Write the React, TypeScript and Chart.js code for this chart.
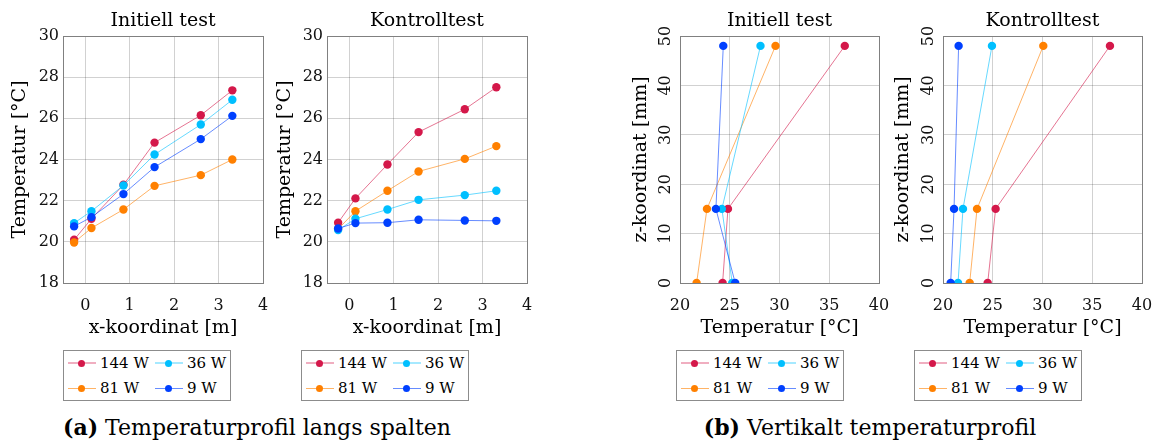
import React, { useEffect, useRef } from "react";
import { Chart, registerables } from "chart.js";

Chart.register(...registerables);

const FONT = "'DejaVu Serif', 'Liberation Serif', serif";
const TEXT = "#111111";

// Series, in legend order
const seriesLabels = ["144 W", "81 W", "36 W", "9 W"];
const pointColors = ["#d4184a", "#ff8000", "#00bfff", "#0040ff"];
const lineColors = [
  "rgba(212,24,74,0.6)",
  "rgba(255,128,0,0.6)",
  "rgba(0,191,255,0.6)",
  "rgba(0,64,255,0.6)",
];

// (a) Temperature profile along the gap
const xPositions = [-0.25, 0.14, 0.86, 1.56, 2.6, 3.31];
const initial144 = [20.1, 21.12, 22.77, 24.82, 26.15, 27.36];
const initial81 = [19.97, 20.67, 21.57, 22.72, 23.24, 24.0];
const initial36 = [20.91, 21.49, 22.74, 24.24, 25.7, 26.9];
const initial9 = [20.75, 21.2, 22.32, 23.63, 24.99, 26.12];
const control144 = [20.93, 22.11, 23.76, 25.33, 26.44, 27.51];
const control81 = [20.62, 21.49, 22.48, 23.42, 24.03, 24.65];
const control36 = [20.57, 21.12, 21.57, 22.04, 22.27, 22.48];
const control9 = [20.65, 20.91, 20.93, 21.07, 21.04, 21.02];

// (b) Vertical temperature profile
const zPositions = [0, 15, 48];
const vInitial144 = [24.28, 24.82, 36.56];
const vInitial81 = [21.67, 22.71, 29.6];
const vInitial36 = [25.25, 24.21, 28.09];
const vInitial9 = [25.55, 23.61, 24.35];
const vControl144 = [24.49, 25.29, 36.78];
const vControl81 = [22.68, 23.42, 30.08];
const vControl36 = [21.51, 22.01, 24.92];
const vControl9 = [20.77, 21.11, 21.57];

// Tick values
const xTicksA = [0, 1, 2, 3, 4];
const tempTicksA = [18, 20, 22, 24, 26, 28, 30];
const tempTicksB = [20, 25, 30, 35, 40];
const zTicks = [0, 10, 20, 30, 40, 50];

type Series = { x: number[]; y: number[] };
type Spec = {
  key: string;
  left: number;
  width: number;
  axisW: number;
  padRight: number;
  yTitlePad: number;
  title: string;
  xTitle: string;
  yTitle: string;
  xMin: number;
  xMax: number;
  xTicks: number[];
  yMin: number;
  yMax: number;
  yTicks: number[];
  rotateY: boolean;
  series: Series[];
};

const CANVAS_H = 345;
const PLOT_BOTTOM = 283;

const specs: Spec[] = [
  {
    key: "a1", left: 0, width: 272, axisW: 63, padRight: 9, yTitlePad: 9,
    title: "Initiell test", xTitle: "x-koordinat [m]", yTitle: "Temperatur [°C]",
    xMin: -0.5, xMax: 4, xTicks: xTicksA, yMin: 18, yMax: 30, yTicks: tempTicksA, rotateY: false,
    series: [initial144, initial81, initial36, initial9].map((v) => ({ x: xPositions, y: v })),
  },
  {
    key: "a2", left: 272, width: 272, axisW: 55, padRight: 17, yTitlePad: 2,
    title: "Kontrolltest", xTitle: "x-koordinat [m]", yTitle: "Temperatur [°C]",
    xMin: -0.5, xMax: 4, xTicks: xTicksA, yMin: 18, yMax: 30, yTicks: tempTicksA, rotateY: false,
    series: [control144, control81, control36, control9].map((v) => ({ x: xPositions, y: v })),
  },
  {
    key: "b1", left: 620, width: 275, axisW: 60, padRight: 16, yTitlePad: 9.6,
    title: "Initiell test", xTitle: "Temperatur [°C]", yTitle: "z-koordinat [mm]",
    xMin: 20, xMax: 40, xTicks: tempTicksB, yMin: 0, yMax: 50, yTicks: zTicks, rotateY: true,
    series: [vInitial144, vInitial81, vInitial36, vInitial9].map((v) => ({ x: v, y: zPositions })),
  },
  {
    key: "b2", left: 885, width: 273, axisW: 58, padRight: 16, yTitlePad: 6.6,
    title: "Kontrolltest", xTitle: "Temperatur [°C]", yTitle: "z-koordinat [mm]",
    xMin: 20, xMax: 40, xTicks: tempTicksB, yMin: 0, yMax: 50, yTicks: zTicks, rotateY: true,
    series: [vControl144, vControl81, vControl36, vControl9].map((v) => ({ x: v, y: zPositions })),
  },
];

const boxPlugin = {
  id: "axesBox",
  beforeDatasetsDraw(chart: any) {
    const { ctx, chartArea } = chart;
    const l = Math.round(chartArea.left) + 0.5;
    const t = Math.round(chartArea.top) + 0.5;
    const r = Math.round(chartArea.right) + 0.5;
    const b = Math.round(chartArea.bottom) + 0.5;
    ctx.save();
    ctx.strokeStyle = "#808080";
    ctx.lineWidth = 1;
    ctx.strokeRect(l, t, r - l, b - t);
    ctx.restore();
  },
};

// Draws the y tick labels of the scale rotated by 90 degrees (reading upwards)
const rotatedYTicksPlugin = {
  id: "rotatedYTicks",
  afterDraw(chart: any) {
    const scale = chart.scales.y;
    const { ctx, chartArea } = chart;
    ctx.save();
    ctx.fillStyle = TEXT;
    ctx.font = `16px ${FONT}`;
    ctx.textAlign = "center";
    ctx.textBaseline = "middle";
    for (const t of scale.ticks) {
      const y = scale.getPixelForValue(t.value);
      ctx.save();
      ctx.translate(chartArea.left - 14.5, y);
      ctx.rotate(-Math.PI / 2);
      ctx.fillText(String(t.value), 0, 0);
      ctx.restore();
    }
    ctx.restore();
  },
};

function zeroPadding(sc: any) {
  sc.paddingLeft = 0;
  sc.paddingRight = 0;
  sc.paddingTop = 0;
  sc.paddingBottom = 0;
}

function makeConfig(s: Spec): any {
  const datasets = s.series
    .map((d, i) => ({
      label: seriesLabels[i],
      data: d.x.map((xv, j) => ({ x: xv, y: d.y[j] })),
      showLine: true,
      borderColor: lineColors[i],
      borderWidth: 1,
      pointRadius: 4.2,
      pointHoverRadius: 4.2,
      pointBackgroundColor: pointColors[i],
      pointBorderWidth: 0,
      tension: 0,
    }))
    .reverse();

  const gridColor = "rgba(0,0,0,0.18)";
  const tickFont = { family: FONT, size: 16 };
  return {
    type: "scatter",
    data: { datasets },
    plugins: s.rotateY ? [boxPlugin, rotatedYTicksPlugin] : [boxPlugin],
    options: {
      responsive: false,
      animation: false,
      events: [],
      layout: { padding: { left: 0, right: s.padRight, top: 0, bottom: 0 } },
      plugins: {
        legend: { display: false },
        tooltip: { enabled: false },
        title: {
          display: true,
          text: s.title,
          fullSize: false,
          color: "#000",
          font: { family: FONT, size: 19, weight: "normal" },
          padding: { top: 9.6, bottom: 3.6 },
        },
      },
      scales: {
        x: {
          type: "linear",
          min: s.xMin,
          max: s.xMax,
          afterBuildTicks: (sc: any) => {
            sc.ticks = s.xTicks.map((v) => ({ value: v }));
          },
          afterFit: (sc: any) => {
            sc.height = CANVAS_H - PLOT_BOTTOM;
            zeroPadding(sc);
          },
          grid: { color: gridColor, drawTicks: false },
          border: { display: false },
          ticks: {
            autoSkip: false,
            maxRotation: 0,
            minRotation: 0,
            padding: 13,
            color: TEXT,
            font: tickFont,
          },
          title: {
            display: true,
            text: s.xTitle,
            color: "#000",
            font: { family: FONT, size: 19 },
            padding: { top: 0, bottom: 5.2 },
          },
        },
        y: {
          type: "linear",
          min: s.yMin,
          max: s.yMax,
          afterBuildTicks: (sc: any) => {
            sc.ticks = s.yTicks.map((v) => ({ value: v }));
          },
          afterFit: (sc: any) => {
            sc.width = s.axisW;
            zeroPadding(sc);
          },
          grid: { color: gridColor, drawTicks: false },
          border: { display: false },
          ticks: {
            display: !s.rotateY,
            autoSkip: false,
            padding: 4,
            color: TEXT,
            font: tickFont,
          },
          title: {
            display: true,
            text: s.yTitle,
            color: "#000",
            font: { family: FONT, size: 19 },
            padding: { top: s.yTitlePad, bottom: 0 },
          },
        },
      },
    },
  };
}

function SubChart({ spec }: { spec: Spec }) {
  const ref = useRef<HTMLCanvasElement>(null);
  useEffect(() => {
    if (!ref.current) return;
    const chart = new Chart(ref.current, makeConfig(spec));
    return () => chart.destroy();
  }, [spec]);
  return (
    <canvas
      ref={ref}
      width={spec.width}
      height={CANVAS_H}
      style={{ position: "absolute", left: spec.left, top: 0, width: spec.width, height: CANVAS_H }}
    />
  );
}

const legendLefts = [63, 301, 676, 914];

function Legend({ left }: { left: number }) {
  const rowY = [13.3, 38.3];
  const colX = [0, 87];
  return (
    <div
      style={{
        position: "absolute",
        left,
        top: 350,
        width: 168,
        height: 51,
        boxSizing: "border-box",
        border: "1px solid #8c8c8c",
        background: "#fff",
      }}
    >
      {seriesLabels.map((label, i) => {
        const cx = colX[Math.floor(i / 2)] - 1;
        const cy = rowY[i % 2] - 1;
        const thick = i === 0 || i === 2;
        const lh = thick ? 2 : 1;
        return (
          <React.Fragment key={label}>
            <div
              style={{
                position: "absolute",
                left: cx + 4.5,
                top: cy - lh / 2,
                width: 28,
                height: lh,
                background: thick ? lineColors[i].replace("0.6", "0.35") : lineColors[i],
              }}
            />
            <div
              style={{
                position: "absolute",
                left: cx + 18 - 3.5,
                top: cy - 3.5,
                width: 7,
                height: 7,
                borderRadius: "50%",
                background: pointColors[i],
              }}
            />
            <div
              style={{
                position: "absolute",
                left: cx + 37,
                top: cy - 9,
                height: 18,
                lineHeight: "18px",
                fontFamily: FONT,
                fontSize: 15,
                color: "#000",
                whiteSpace: "nowrap",
              }}
            >
              {label}
            </div>
          </React.Fragment>
        );
      })}
    </div>
  );
}

const captionStyle: React.CSSProperties = {
  position: "absolute",
  top: 414,
  width: 420,
  fontFamily: FONT,
  fontSize: 22,
  lineHeight: "26px",
  textAlign: "center",
  whiteSpace: "nowrap",
  color: "#000",
};

export default function App() {
  return (
    <div
      style={{
        position: "absolute",
        left: 0,
        top: 0,
        width: 1158,
        height: 446,
        background: "#fff",
        overflow: "hidden",
      }}
    >
      {specs.map((s) => (
        <SubChart key={s.key} spec={s} />
      ))}
      {legendLefts.map((l) => (
        <Legend key={l} left={l} />
      ))}
      <div style={{ ...captionStyle, left: 257 - 210 }}>
        <b>(a)</b> Temperaturprofil langs spalten
      </div>
      <div style={{ ...captionStyle, left: 870 - 210 }}>
        <b>(b)</b> Vertikalt temperaturprofil
      </div>
    </div>
  );
}
